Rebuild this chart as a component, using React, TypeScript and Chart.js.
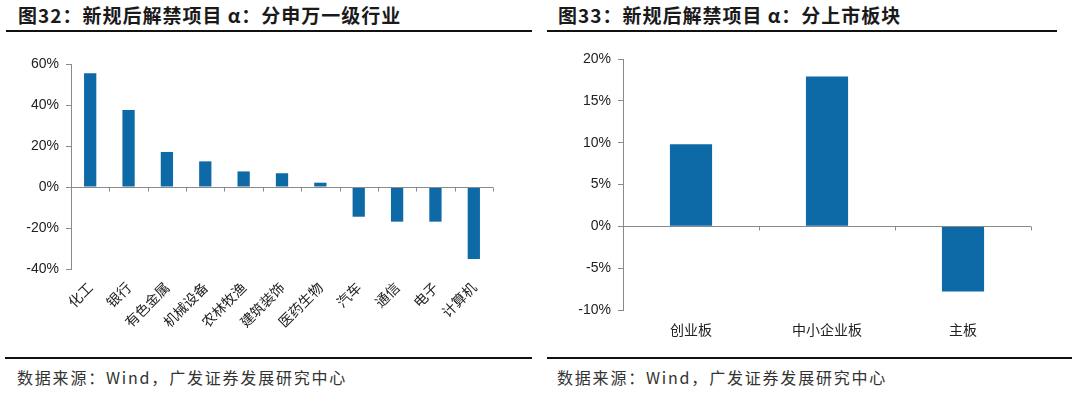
import React, { useEffect, useRef } from "react";
import { Chart, registerables } from "chart.js";

Chart.register(...registerables);

const LEFT_TITLE = "图32：新规后解禁项目 α：分申万一级行业";
const RIGHT_TITLE = "图33：新规后解禁项目 α：分上市板块";
const SOURCE = "数据来源：Wind，广发证券发展研究中心";

const LEFT_CATEGORIES = ["化工", "银行", "有色金属", "机械设备", "农林牧渔", "建筑装饰", "医药生物", "汽车", "通信", "电子", "计算机"];
const LEFT_VALUES = [55.5, 37.6, 17.1, 12.5, 7.6, 6.7, 2.1, -14.5, -16.9, -16.9, -35.1];
const LEFT_Y_MIN = -40;
const LEFT_Y_MAX = 60;
const LEFT_Y_STEP = 20;

const RIGHT_CATEGORIES = ["创业板", "中小企业板", "主板"];
const RIGHT_VALUES = [9.8, 17.9, -7.8];
const RIGHT_Y_MIN = -10;
const RIGHT_Y_MAX = 20;
const RIGHT_Y_STEP = 5;

const BAR_COLOR = "#0e69a7";
const AXIS_COLOR = "#8a8a8a";
const TEXT_COLOR = "#222222";

const zeroLinePlugin = {
  id: "zeroLine",
  afterDatasetsDraw(chart: any) {
    const x = chart.scales.x;
    const y = chart.scales.y;
    const ctx = chart.ctx;
    const py = Math.round(y.getPixelForValue(0)) + 0.5;
    const n = chart.data.labels.length;
    ctx.save();
    ctx.strokeStyle = AXIS_COLOR;
    ctx.lineWidth = 1;
    ctx.beginPath();
    ctx.moveTo(x.left, py);
    ctx.lineTo(x.right, py);
    for (let i = 1; i <= n; i++) {
      const px = Math.round(x.left + (i * (x.right - x.left)) / n) + 0.5;
      ctx.moveTo(px, py);
      ctx.lineTo(px, py + 4);
    }
    ctx.stroke();
    ctx.restore();
  },
};

type BoxProps = {
  left: number;
  top: number;
  width: number;
  height: number;
  labels: string[];
  values: number[];
  yMin: number;
  yMax: number;
  yStep: number;
  yAxisWidth: number;
  xAxisHeight: number;
  padTop: number;
  padRight: number;
  barPct: number;
  rotate: boolean;
  xPad: number;
};

function BarBox(p: BoxProps) {
  const ref = useRef<HTMLCanvasElement | null>(null);
  useEffect(() => {
    if (!ref.current) return;
    const chart = new Chart(ref.current, {
      type: "bar",
      data: {
        labels: p.labels,
        datasets: [
          {
            data: p.values,
            backgroundColor: BAR_COLOR,
            borderWidth: 0,
            barPercentage: p.barPct,
            categoryPercentage: 1,
          },
        ],
      },
      options: {
        animation: false,
        responsive: false,
        devicePixelRatio: 1,
        layout: { padding: { top: p.padTop, right: p.padRight, left: 0, bottom: 0 } },
        plugins: { legend: { display: false }, tooltip: { enabled: false } },
        scales: {
          x: {
            grid: { display: false, drawTicks: false },
            border: { display: false },
            ticks: {
              autoSkip: false,
              maxRotation: p.rotate ? 45 : 0,
              minRotation: p.rotate ? 45 : 0,
              padding: p.xPad,
              color: TEXT_COLOR,
              font: { family: "'Noto Sans CJK SC', sans-serif", size: 14 },
            },
            afterFit: (s: any) => {
              s.height = p.xAxisHeight;
            },
          },
          y: {
            min: p.yMin,
            max: p.yMax,
            grid: { display: true, drawOnChartArea: false, drawTicks: true, tickLength: 5, color: AXIS_COLOR },
            border: { display: true, color: AXIS_COLOR },
            ticks: {
              stepSize: p.yStep,
              padding: 7,
              color: TEXT_COLOR,
              font: { family: "'Liberation Sans', Arial, sans-serif", size: 14 },
              callback: (v: any) => v + "%",
            },
            afterFit: (s: any) => {
              s.width = p.yAxisWidth;
            },
          },
        },
      },
      plugins: [zeroLinePlugin],
    } as any);
    return () => chart.destroy();
  }, []);
  return (
    <canvas
      ref={ref}
      width={p.width}
      height={p.height}
      style={{ position: "absolute", left: p.left, top: p.top, width: p.width, height: p.height }}
    />
  );
}

const titleStyle: React.CSSProperties = {
  position: "absolute",
  top: 3,
  fontFamily: "'Noto Sans CJK SC', sans-serif",
  fontWeight: 700,
  fontSize: 19,
  lineHeight: "23px",
  letterSpacing: 1,
  color: "#1a1a1a",
  whiteSpace: "nowrap",
};

const sourceStyle: React.CSSProperties = {
  position: "absolute",
  top: 366,
  fontFamily: "'Noto Sans CJK SC', sans-serif",
  fontSize: 16,
  lineHeight: "22px",
  color: "#333",
  letterSpacing: 1.8,
  whiteSpace: "nowrap",
};

function Line({ x1, x2, y, h }: { x1: number; x2: number; y: number; h: number }) {
  return <div style={{ position: "absolute", left: x1, top: y, width: x2 - x1, height: h, background: "#111" }} />;
}

export default function App() {
  return (
    <div style={{ position: "fixed", left: 0, top: 0, width: 1080, height: 393, background: "#fff", overflow: "hidden" }}>
      <div style={{ ...titleStyle, left: 18 }}>{LEFT_TITLE}</div>
      <div style={{ ...titleStyle, left: 558 }}>{RIGHT_TITLE}</div>
      <Line x1={6} x2={532} y={30} h={2} />
      <Line x1={547} x2={1057} y={30} h={2} />
      <BarBox
        left={0}
        top={40}
        width={540}
        height={310}
        labels={LEFT_CATEGORIES}
        values={LEFT_VALUES}
        yMin={LEFT_Y_MIN}
        yMax={LEFT_Y_MAX}
        yStep={LEFT_Y_STEP}
        yAxisWidth={71}
        xAxisHeight={81}
        padTop={24}
        padRight={47}
        barPct={0.32}
        rotate={true}
        xPad={10}
      />
      <BarBox
        left={540}
        top={40}
        width={540}
        height={310}
        labels={RIGHT_CATEGORIES}
        values={RIGHT_VALUES}
        yMin={RIGHT_Y_MIN}
        yMax={RIGHT_Y_MAX}
        yStep={RIGHT_Y_STEP}
        yAxisWidth={83}
        xAxisHeight={40}
        padTop={19}
        padRight={49}
        barPct={0.31}
        rotate={false}
        xPad={11}
      />
      <Line x1={5} x2={532} y={357} h={2} />
      <Line x1={547} x2={1072} y={357} h={2} />
      <div style={{ ...sourceStyle, left: 17 }}>{SOURCE}</div>
      <div style={{ ...sourceStyle, left: 557 }}>{SOURCE}</div>
    </div>
  );
}
